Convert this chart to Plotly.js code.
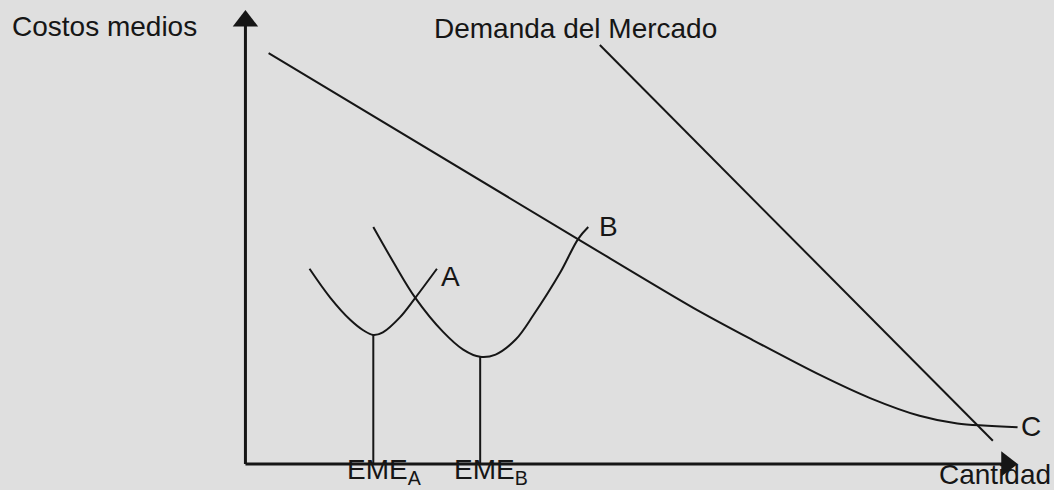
<!DOCTYPE html>
<html>
<head>
<meta charset="utf-8">
<script src="https://cdn.plot.ly/plotly-3.0.1.min.js"></script>
<style>
  html, body { margin: 0; padding: 0; background: #dfdfdf; }
  #chart { width: 1054px; height: 490px; }
</style>
</head>
<body>
<div id="chart"></div>
<script>
// curva de costos medios de largo plazo (A ... B ... C)
let cmlpX = [3, 43, 58, 65.7, 74.4, 80.9, 87.3, 92.2, 100];
let cmlpY = [90.5, 49.6, 34.4, 27.3, 19.6, 14.5, 10.6, 8.9, 8.1];

// demanda del mercado
let demandaX = [45.9, 96.8];
let demandaY = [92.3, 5.1];

// costos medios de corto plazo, planta A
let plantaAX = [8.3, 11.0, 13.6, 15.3, 16.56, 17.8, 20.0, 22.0, 24.8];
let plantaAY = [43.0, 36.6, 31.7, 29.4, 28.4, 29.0, 32.3, 36.6, 43.0];

// costos medios de corto plazo, planta B
let plantaBX = [16.56, 19.15, 22.0, 25.6, 28.2, 30.4, 32.4, 35.0, 37.3, 40.75, 43.1, 44.4];
let plantaBY = [52.2, 44.5, 36.6, 29.1, 25.2, 23.6, 24.1, 27.4, 32.8, 42.1, 49.6, 52.2];

// escalas minimas eficientes
let emeNombres = ["A", "B"];
let emeX = [16.56, 30.4];
let emeY = [28.4, 23.6];

// extremos de los ejes (centro de la punta de flecha)
let ejeMax = 100;
let ejeXFin = 98.6;
let ejeYFin = 97.6;

let ink = "#161616";
let font = { family: "Liberation Sans, Arial, sans-serif", size: 28, color: ink };

function ejeTrace(xs, ys) {
  return {
    x: xs, y: ys, mode: "lines+markers", type: "scatter", cliponaxis: false,
    line: { color: ink, width: 3 },
    marker: { symbol: ["circle", "triangle-up"], angleref: "previous", size: [0, 22], color: ink, opacity: 1, line: { width: 0 } }
  };
}

let data = [
  ejeTrace([0, 0], [0, ejeYFin]),
  ejeTrace([0, ejeXFin], [0, 0]),
  { x: cmlpX, y: cmlpY, mode: "lines", type: "scatter", cliponaxis: false, line: { color: ink, width: 2, shape: "spline", smoothing: 0.8 } },
  { x: demandaX, y: demandaY, mode: "lines", type: "scatter", line: { color: ink, width: 2 } },
  { x: plantaAX, y: plantaAY, mode: "lines", type: "scatter", line: { color: ink, width: 2, shape: "spline", smoothing: 1 } },
  { x: plantaBX, y: plantaBY, mode: "lines", type: "scatter", line: { color: ink, width: 2, shape: "spline", smoothing: 1 } }
];

// lineas verticales hasta las EME
for (let i = 0; i < emeX.length; i++) {
  data.push({ x: [emeX[i], emeX[i]], y: [0, emeY[i]], mode: "lines", type: "scatter", line: { color: ink, width: 2 } });
}

function texto(props) {
  return Object.assign({ showarrow: false, font: font, xanchor: "center", yanchor: "middle" }, props);
}

// el area de datos va de -2 a 102 para que los ejes en 0 no queden recortados
let annotations = [
  texto({ xref: "paper", yref: "paper", x: -0.1561, y: 0.9468, text: "Costos medios" }),
  texto({ x: 42.7, y: 96, text: "Demanda del Mercado" }),
  texto({ xref: "paper", yref: "paper", x: 0.9521, y: -0.004, text: "Cantidad" }),
  texto({ x: 26.6, y: 41.4, text: "A" }),
  texto({ x: 47.0, y: 52.4, text: "B" }),
  texto({ xref: "paper", yref: "paper", x: 0.9969, y: 0.0976, text: "C" })
];
for (let i = 0; i < emeX.length; i++) {
  annotations.push(texto({ yref: "paper", x: emeX[i] + 1.4, y: 0.003, text: "EME<sub>" + emeNombres[i] + "</sub>" }));
}

let layout = {
  width: 1054, height: 490,
  margin: { l: 229.5, r: 20.5, t: 0.9, b: 16.9, pad: 0 },
  paper_bgcolor: "#dfdfdf",
  plot_bgcolor: "#dfdfdf",
  showlegend: false,
  xaxis: { range: [-2, ejeMax + 2], visible: false, fixedrange: true },
  yaxis: { range: [-2, ejeMax + 2], visible: false, fixedrange: true },
  annotations: annotations
};

Plotly.newPlot("chart", data, layout, { staticPlot: true, displayModeBar: false });
</script>
</body>
</html>
